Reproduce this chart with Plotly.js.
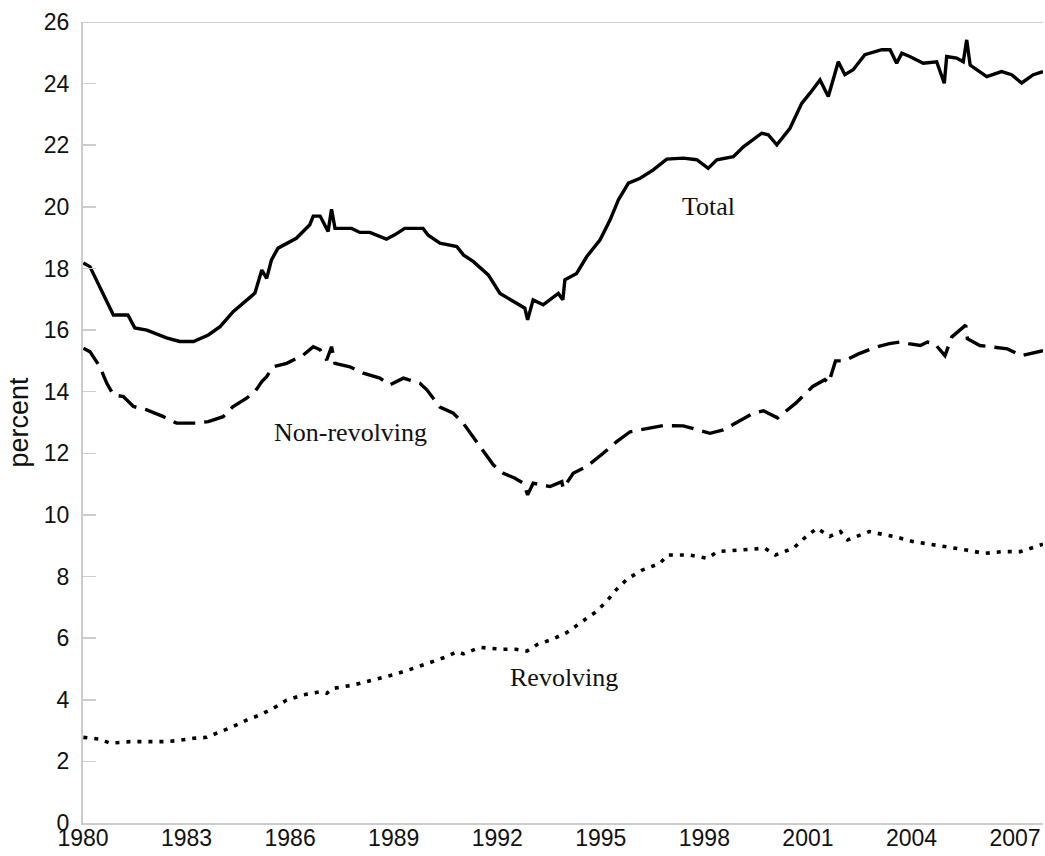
<!DOCTYPE html>
<html>
<head>
<meta charset="utf-8">
<script src="https://cdn.plot.ly/plotly-3.0.1.min.js"></script>
<style>
  html, body { margin: 0; padding: 0; background: #ffffff; }
  #chart { width: 1045px; height: 856px; }
</style>
</head>
<body>
<div id="chart"></div>
<script>
// ---- Data ----
var totalYears = [1980.01,1980.2,1980.88,1981.3,1981.5,1981.85,1982.42,1982.8,1983.2,1983.63,1983.97,1984.35,1984.98,1985.18,1985.32,1985.46,1985.65,1986.18,1986.57,1986.67,1986.87,1987.1,1987.2,1987.3,1987.78,1988.02,1988.31,1988.79,1989.03,1989.32,1989.85,1990.0,1990.34,1990.83,1991.02,1991.31,1991.74,1992.08,1992.56,1992.8,1992.88,1993.04,1993.33,1993.77,1993.9,1993.96,1994.3,1994.59,1994.98,1995.27,1995.51,1995.8,1996.14,1996.52,1996.91,1997.39,1997.78,1998.11,1998.36,1998.84,1999.13,1999.66,1999.85,2000.1,2000.48,2000.82,2001.06,2001.35,2001.59,2001.88,2002.07,2002.31,2002.65,2003.14,2003.38,2003.57,2003.72,2003.95,2004.34,2004.73,2004.95,2005.02,2005.31,2005.5,2005.6,2005.7,2006.18,2006.61,2006.9,2007.19,2007.53,2007.81];
var totalValues = [18.18,18.06,16.49,16.49,16.07,16.0,15.75,15.63,15.63,15.84,16.11,16.6,17.2,17.95,17.68,18.28,18.66,18.98,19.42,19.7,19.7,19.2,19.92,19.3,19.3,19.17,19.17,18.95,19.09,19.3,19.3,19.08,18.82,18.71,18.44,18.22,17.79,17.19,16.87,16.71,16.33,16.98,16.82,17.19,16.98,17.63,17.84,18.38,18.93,19.58,20.23,20.77,20.93,21.2,21.55,21.58,21.53,21.25,21.53,21.63,21.95,22.39,22.34,22.01,22.55,23.36,23.69,24.12,23.58,24.71,24.29,24.45,24.94,25.1,25.1,24.66,24.99,24.88,24.66,24.71,24.01,24.88,24.83,24.71,25.42,24.6,24.23,24.39,24.29,24.02,24.29,24.39];

var nonRevYears = [1980.01,1980.2,1980.49,1980.69,1980.88,1981.17,1981.46,1981.85,1982.33,1982.71,1983.29,1983.63,1984.06,1984.35,1984.74,1984.98,1985.18,1985.32,1985.51,1985.9,1986.38,1986.67,1986.87,1987.06,1987.2,1987.3,1987.73,1988.12,1988.6,1988.89,1989.28,1989.76,1989.96,1990.34,1990.73,1991.02,1991.5,1991.89,1992.18,1992.5,1992.76,1992.88,1993.04,1993.53,1993.87,1993.91,1994.2,1994.59,1995.07,1995.46,1995.85,1996.33,1996.81,1997.39,1997.78,1998.16,1998.55,1998.94,1999.42,1999.71,2000.12,2000.64,2001.14,2001.49,2001.6,2001.8,2002.05,2002.45,2002.95,2003.36,2003.66,2003.91,2004.26,2004.46,2004.67,2004.97,2005.17,2005.57,2005.62,2005.98,2006.38,2006.78,2007.18,2007.69,2007.81];
var nonRevValues = [15.41,15.3,14.81,14.27,13.9,13.84,13.52,13.41,13.19,12.98,12.98,13.03,13.19,13.52,13.79,14.0,14.33,14.49,14.81,14.92,15.19,15.46,15.36,15.03,15.46,14.92,14.81,14.6,14.44,14.22,14.44,14.27,14.06,13.5,13.3,12.97,12.22,11.62,11.35,11.2,11.03,10.65,11.03,10.92,11.08,10.86,11.35,11.57,12.0,12.38,12.7,12.81,12.9,12.89,12.78,12.65,12.76,13.0,13.3,13.38,13.15,13.62,14.17,14.39,14.28,15.0,15.0,15.22,15.44,15.56,15.61,15.56,15.5,15.61,15.56,15.17,15.78,16.16,15.72,15.5,15.44,15.39,15.17,15.28,15.33];

var revYears = [1980.01,1980.49,1980.78,1981.36,1982.33,1982.71,1983.2,1983.58,1983.97,1984.35,1984.74,1985.13,1985.51,1985.9,1986.38,1986.87,1987.06,1987.25,1987.83,1988.41,1988.99,1989.57,1990.15,1990.54,1990.83,1991.02,1991.5,1992.13,1992.54,1992.86,1993.17,1993.59,1994.01,1994.42,1994.84,1995.15,1995.47,1995.78,1996.2,1996.72,1996.93,1997.55,1998.08,1998.39,1999.23,1999.75,2000.06,2000.58,2000.9,2001.26,2001.63,2001.94,2002.15,2002.78,2002.98,2003.5,2004.03,2004.65,2005.07,2005.59,2006.12,2006.64,2007.16,2007.81];
var revValues = [2.78,2.72,2.59,2.64,2.64,2.67,2.75,2.78,2.96,3.13,3.34,3.51,3.72,3.99,4.16,4.26,4.21,4.37,4.48,4.64,4.81,5.02,5.24,5.40,5.56,5.49,5.70,5.64,5.64,5.58,5.8,5.96,6.18,6.51,6.84,7.17,7.6,7.93,8.21,8.43,8.7,8.7,8.59,8.81,8.86,8.92,8.7,8.92,9.25,9.57,9.3,9.46,9.19,9.46,9.41,9.3,9.14,9.03,8.97,8.86,8.75,8.81,8.81,9.05];

var seriesNames = ["Total", "Non-revolving", "Revolving"];
var labelYears = [1998.13, 1987.76, 1993.93];
var labelValues = [20.0, 12.66, 4.71];
var xTickValues = [1980, 1983, 1986, 1989, 1992, 1995, 1998, 2001, 2004, 2007];
var xTickLabels = ["1980", "1983", "1986", "1989", "1992", "1995", "1998", "2001", "2004", "2007"];
var yAxisTitle = "percent";

// ---- Chart ----
var axisGrey = "#cccccc";
var tickFont = { family: "Liberation Sans, Arial, sans-serif", size: 23, color: "#111111" };
var serifFont = { family: "Liberation Serif, Times New Roman, serif", size: 26, color: "#111111" };

var traces = [
  { x: totalYears, y: totalValues, name: seriesNames[0], type: "scatter", mode: "lines",
    line: { color: "#000000", width: 3.4 } },
  { x: nonRevYears, y: nonRevValues, name: seriesNames[1], type: "scatter", mode: "lines",
    line: { color: "#000000", width: 3.4, dash: "22px,9px" } },
  { x: revYears, y: revValues, name: seriesNames[2], type: "scatter", mode: "lines",
    line: { color: "#000000", width: 3.6, dash: "4px,7px" } }
];

var annotations = seriesNames.map(function (n, i) {
  return { x: labelYears[i], y: labelValues[i], xref: "x", yref: "y", text: n,
           showarrow: false, font: serifFont, xanchor: "center", yanchor: "middle" };
});

var layout = {
  width: 1045, height: 856,
  margin: { l: 83, r: 2, t: 22, b: 33, pad: 0 },
  paper_bgcolor: "#ffffff", plot_bgcolor: "#ffffff",
  showlegend: false,
  xaxis: {
    range: [1980, 2007.81], tickmode: "array", tickvals: xTickValues, ticktext: xTickLabels,
    showline: true, linecolor: axisGrey, linewidth: 2, ticks: "", showgrid: false, zeroline: false,
    tickfont: tickFont, ticklabelstandoff: -7, fixedrange: true
  },
  yaxis: {
    range: [0, 26], dtick: 2, tick0: 0,
    showline: true, linecolor: axisGrey, linewidth: 2,
    ticks: "inside", ticklen: 13, tickwidth: 1.5, tickcolor: axisGrey,
    showgrid: false, zeroline: false, tickfont: tickFont, ticklabelstandoff: 7,
    title: { text: yAxisTitle, font: { family: "Liberation Sans, Arial, sans-serif", size: 27, color: "#111111" }, standoff: 7 },
    fixedrange: true
  },
  shapes: [
    { type: "line", xref: "paper", yref: "y", x0: 0, x1: 1, y0: 26, y1: 26,
      line: { color: axisGrey, width: 2 } }
  ],
  annotations: annotations
};

Plotly.newPlot("chart", traces, layout, { displayModeBar: false, staticPlot: true });
</script>
</body>
</html>
